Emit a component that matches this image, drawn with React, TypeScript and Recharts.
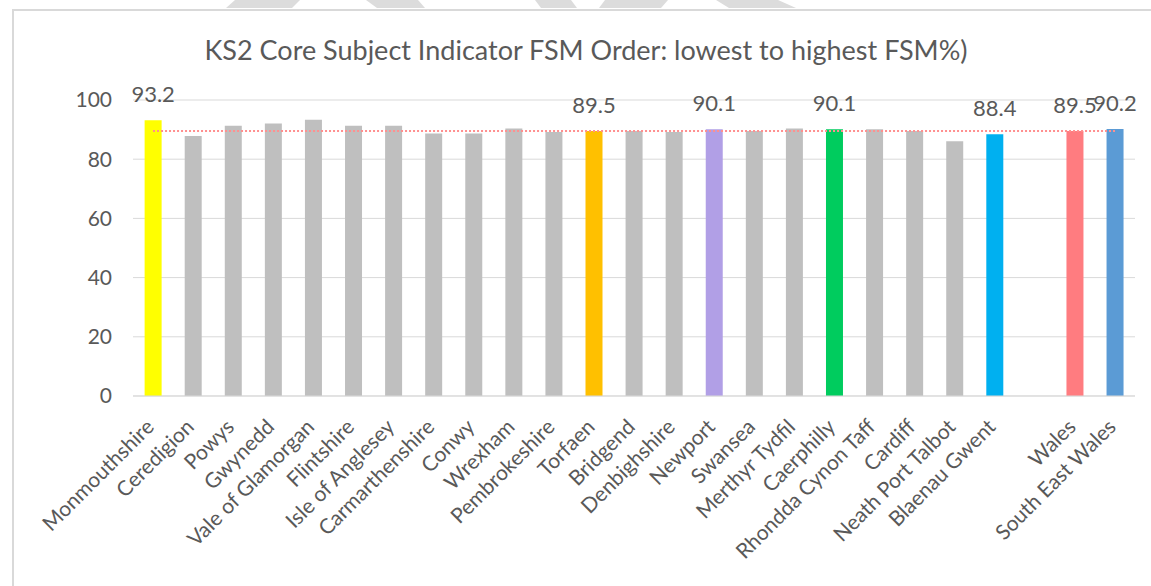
import { Bar, CartesianGrid, Cell, ComposedChart, LabelList, ReferenceLine, XAxis, YAxis } from 'recharts'

const authorities = [
  'Monmouthshire', 'Ceredigion', 'Powys', 'Gwynedd', 'Vale of Glamorgan', 'Flintshire',
  'Isle of Anglesey', 'Carmarthenshire', 'Conwy', 'Wrexham', 'Pembrokeshire', 'Torfaen',
  'Bridgend', 'Denbighshire', 'Newport', 'Swansea', 'Merthyr Tydfil', 'Caerphilly',
  'Rhondda Cynon Taff', 'Cardiff', 'Neath Port Talbot', 'Blaenau Gwent', ' ', 'Wales',
  'South East Wales',
]
const csi = [
  93.2, 87.8, 91.3, 92.1, 93.3, 91.3, 91.3, 88.7, 88.7, 90.4, 89.2, 89.5,
  89.5, 89.2, 90.1, 89.5, 90.4, 90.1, 90.1, 89.5, 86.1, 88.4, null, 89.5, 90.2,
]
const highlighted: Record<string, string> = {
  Monmouthshire: '#FFFF00',
  Torfaen: '#FFC000',
  Newport: '#B19FE6',
  Caerphilly: '#00CC5E',
  'Blaenau Gwent': '#00B0F0',
  Wales: '#FF7C80',
  'South East Wales': '#5B9BD5',
}
const walesAverage = 89.5
const yTicks = [0, 20, 40, 60, 80, 100]

const rows = authorities.map((name, i) => ({
  name,
  csi: csi[i],
  label: highlighted[name] ? csi[i] : null,
}))

const font = 'Lato, "Open Sans", sans-serif'
const grey = '#595959'

const watermark = [
  '235,0 300,0 292,8 226,8',
  '366,0 418,0 425,8 377,8',
  '535,0 571,0 577,8 541,8',
  '605,0 668,0 661,8 599,8',
  '716,0 778,0 796,8 729,8',
]

function CategoryTick({ x, y, payload }: any) {
  return (
    <g transform={`translate(${x},${y})`}>
      <text
        x={0}
        y={0}
        dy="0.35em"
        transform="translate(-3,19) rotate(-45)"
        textAnchor="end"
        fill={grey}
        fontSize={21}
        fontFamily={font}
      >
        {payload.value}
      </text>
    </g>
  )
}

function ValueLabel({ x, y, width, value }: any) {
  if (value == null) return null
  return (
    <text
      x={x + width / 2}
      y={y - 26}
      dy="0.35em"
      textAnchor="middle"
      fill={grey}
      fontSize={22}
      fontFamily={font}
    >
      {value}
    </text>
  )
}

export default function App() {
  return (
    <div style={{ position: 'absolute', left: 0, top: 0, width: 1151, height: 586, background: '#fff', overflow: 'hidden' }}>
      <svg width={1151} height={20} style={{ position: 'absolute', left: 0, top: 0 }}>
        {watermark.map((p) => (
          <polygon key={p} points={p} fill="#DCDCDC" />
        ))}
      </svg>
      <div
        style={{
          position: 'absolute', left: 12, top: 9, width: 1160, height: 600,
          border: '2px solid #D9D9D9', boxSizing: 'border-box',
        }}
      />
      <div
        style={{
          position: 'absolute', left: 0, top: 32, width: 1172, textAlign: 'center',
          fontFamily: font, fontSize: 27, color: grey, lineHeight: '36px',
        }}
      >
        KS2 Core Subject Indicator FSM Order: lowest to highest FSM%)
      </div>
      <div style={{ position: 'absolute', left: 0, top: 0 }}>
        <ComposedChart width={1151} height={586} data={rows} margin={{ top: 100, right: 16, bottom: 0, left: 0 }} barCategoryGap="29%">
          <CartesianGrid vertical={false} stroke="#D9D9D9" />
          <XAxis
            dataKey="name"
            interval={0}
            height={190}
            tickLine={false}
            axisLine={{ stroke: '#D9D9D9' }}
            tick={<CategoryTick />}
          />
          <YAxis
            domain={[0, 100]}
            ticks={yTicks}
            width={133}
            tickLine={false}
            axisLine={false}
            tickSize={0}
            tickMargin={21}
            tick={{ fill: grey, fontSize: 21, fontFamily: font }}
          />
          <Bar dataKey="csi" isAnimationActive={false}>
            {rows.map((r) => (
              <Cell key={r.name} fill={highlighted[r.name] ?? '#BFBFBF'} />
            ))}
            <LabelList dataKey="label" content={<ValueLabel />} />
          </Bar>
          <ReferenceLine
            segment={[{ x: authorities[0], y: walesAverage }, { x: authorities[authorities.length - 1], y: walesAverage }]}
            stroke="#FF8F8F"
            strokeWidth={2}
            strokeDasharray="2 2"
          />
        </ComposedChart>
      </div>
    </div>
  )
}
